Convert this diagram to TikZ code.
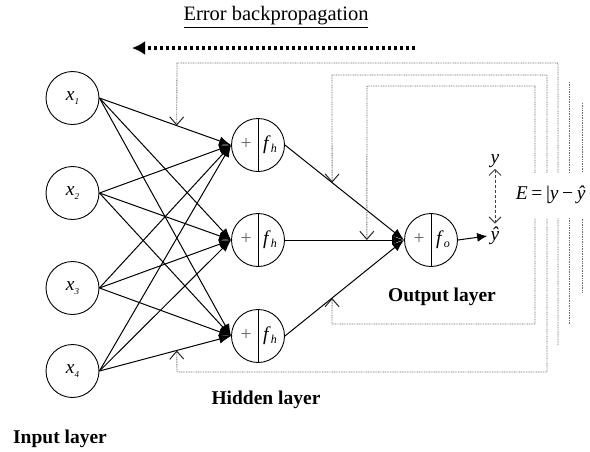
\documentclass[tikz,border=0pt]{standalone}
\usepackage{fontspec}
\setmainfont{Liberation Serif}
\usetikzlibrary{arrows.meta,calc}

% small italic subscript used in the unit labels
\newcommand\sbx[2][9]{\raisebox{-0.35ex}{\fontsize{#1}{#1}\selectfont\textit{#2}}}
% contents of a summing/activation unit: "+" on the left, activation on the right
\newcommand\unitlabel[1]{\makebox[24pt]{\color{black!60}+}\makebox[24pt]{\textit{f}\sbx[12]{#1}}}
% gap used inside the error formula
\newcommand\eqgap{\hspace{3.6pt}}

\begin{document}
\begin{tikzpicture}[x=1pt,y=-1pt,
  every node/.style={font=\fontsize{19.5}{22}\selectfont},
  unit/.style={circle, draw, line width=0.9pt, minimum size=53pt, inner sep=0pt},
  split/.style={unit, path picture={\draw[line width=0.9pt]
      (path picture bounding box.north) -- (path picture bounding box.south);}},
  wire/.style={line width=1pt, -{Latex[length=12pt,width=9pt]}},
  fb/.style={draw=black!58, line width=0.85pt, dash pattern=on 0.9pt off 0.8pt},
  barb/.style={-{Straight Barb[length=8pt,width=14pt,line width=1pt,color=black!85]}},
  layer/.style={font=\fontsize{19.5}{22}\selectfont\bfseries}
]
\useasboundingbox (0,0) rectangle (590,451);

% input layer
\node[unit] (x1) at (72.5,98)  {\textit{x}\sbx{1}};
\node[unit] (x2) at (72.5,193) {\textit{x}\sbx{2}};
\node[unit] (x3) at (72.5,288) {\textit{x}\sbx{3}};
\node[unit] (x4) at (72.5,371) {\textit{x}\sbx{4}};

% hidden layer
\node[split] (h1) at (258,145) {\unitlabel{h}};
\node[split] (h2) at (258,240) {\unitlabel{h}};
\node[split] (h3) at (258,336) {\unitlabel{h}};

% output unit
\node[split] (out) at (431,240) {\unitlabel{o}};

% forward connections
\foreach \i in {1,...,4}
  \foreach \j in {1,2,3}
    \draw[wire] (x\i.east) -- (h\j.west);
\foreach \j in {1,2,3}
  \draw[wire] (h\j.east) -- (out.west);

% target and prediction
\node[inner sep=1pt] (yt) at (495,161) {\textit{y}};
\node (yh) at (495,236) {\textit{ŷ}};
\draw[line width=1pt, -{Latex[length=10pt,width=9pt]}] (out.east) -- (yh.west);
\draw[black!75, line width=0.9pt, dash pattern=on 3pt off 2pt,
  {Straight Barb[length=6pt,width=12pt,line width=1pt]}-{Straight Barb[length=6pt,width=12pt,line width=1pt]}]
  (yt.south) -- (yh.north);

% points where the error signal reaches the weights
\coordinate (tA) at ($(x1.east)!0.587!(h1.west)$);
\coordinate (tB) at ($(x4.east)!0.587!(h3.west)$);
\coordinate (tC) at ($(h1.east)!0.396!(out.west)$);
\coordinate (tD) at ($(h2.east)!0.6875!(out.west)$);
\coordinate (tE) at ($(h3.east)!0.396!(out.west)$);

% error feedback paths
\draw[fb,barb] (558,345) |- (177,63) -- (tA);
\draw[fb,barb] (547,200) |- (332,75) -- (tC);
\draw[fb,barb] (547,200) |- (177,372) -- (tB);
\draw[fb,barb] (535,200) |- (367,86) -- (tD);
\draw[fb,barb] (535,200) |- (332,324) -- (tE);
\draw[fb] (569,82) -- (569,325);
\draw[fb] (582,103) -- (582,293);

% error term
\node[fill=white, anchor=west, minimum height=45pt, minimum width=79pt,
  inner xsep=2pt] (err) at (511,195)
  {\textit{E}\eqgap=\eqgap|\textit{y}\eqgap−\eqgap\textit{ŷ}};

% backpropagation direction
\coordinate (bpR) at (415,48);
\coordinate (bpL) at (132,48);
\draw[line width=3.8pt, dash pattern=on 3.5pt off 2.5pt,
  -{Latex[length=13pt,width=14pt]}] (bpR) -- (bpL);
\node[font=\fontsize{20.5}{22}\selectfont] (bp) at (276,17) {\underline{Error backpropagation}};

% layer captions
\node[layer] (lin)  at (60,439)  {Input layer};
\node[layer] (lhid) at (266,400) {Hidden layer};
\node[layer] (lout) at (442,297) {Output layer};
\end{tikzpicture}
\end{document}
